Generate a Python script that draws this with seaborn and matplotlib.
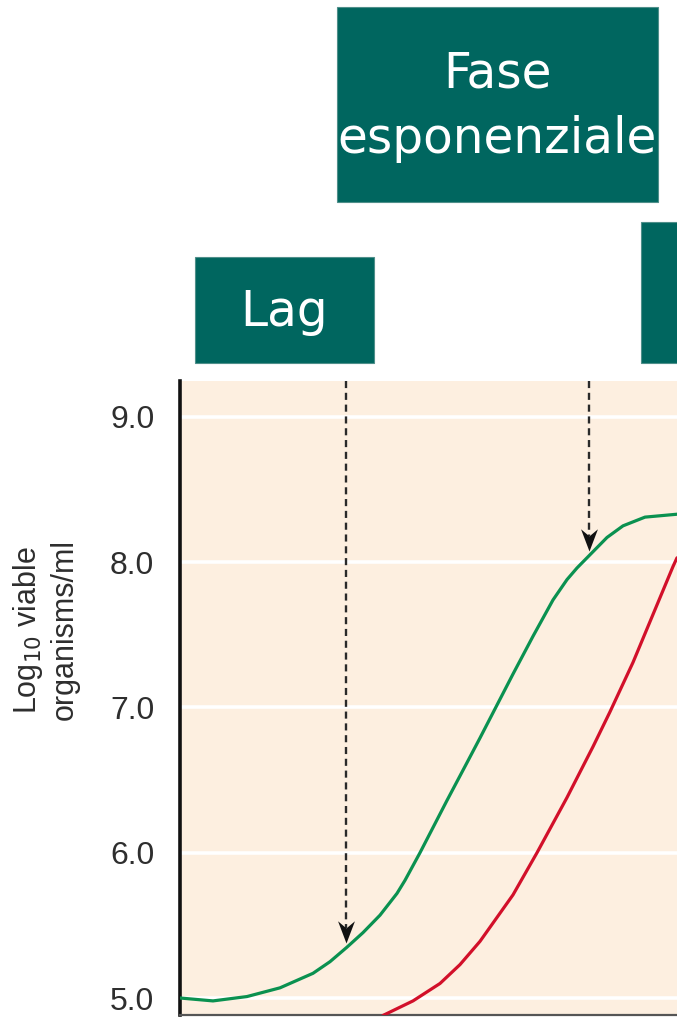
"""
Curva di crescita batterica: fasi lag ed esponenziale (ritaglio)
Uscita: out.png
"""

import matplotlib
matplotlib.use("Agg")
import matplotlib.pyplot as plt
from matplotlib.patches import Rectangle
from matplotlib.path import Path
import seaborn as sns
import pandas as pd

# Dati (tempo in unità arbitrarie, log10 organismi/ml)
tempo_verde = [0.00, 0.66, 1.34, 2.00, 2.66, 3.00, 3.34, 3.66, 4.00, 4.34, 4.50,
               4.80, 5.34, 5.74, 6.00, 6.30, 6.66, 7.06, 7.46, 7.74, 7.94,
               8.14, 8.54, 8.86, 9.30, 9.94]
log_verde = [5.00, 4.98, 5.01, 5.07, 5.17, 5.25, 5.35, 5.45, 5.57, 5.72, 5.81,
             6.00, 6.36, 6.62, 6.79, 6.99, 7.23, 7.49, 7.74, 7.88, 7.96,
             8.03, 8.17, 8.25, 8.31, 8.33]
tempo_rosso = [4.06, 4.66, 5.20, 5.60, 6.00, 6.66, 7.14, 7.74, 8.26, 8.60,
               9.06, 9.46, 9.86, 9.94]
log_rosso = [4.88, 4.98, 5.10, 5.23, 5.39, 5.71, 6.00, 6.38, 6.73, 6.97,
             7.31, 7.64, 7.97, 8.03]

# frecce tratteggiate: tempo e punto di arrivo sulla curva verde
frecce_tempo = [3.32, 8.18]
frecce_arrivo = [5.38, 8.08]

y_ticks = [5.0, 6.0, 7.0, 8.0, 9.0]
etichetta_y = "Log$_{10}$ viable\norganisms/ml"
fasi = ["Lag", "Fase\nesponenziale", ""]

W, H = 677, 1018
TEAL = "#00665F"
SFONDO = "#FDEFE0"

sns.set_style("white", {"axes.facecolor": SFONDO})
plt.rcParams['font.family'] = ['Liberation Sans', 'DejaVu Sans']

fig = plt.figure(figsize=(W / 100, H / 100), dpi=100)

def px(x0, y0, x1, y1):
    """rettangolo in pixel (origine in alto) -> coordinate figura"""
    return [x0 / W, 1 - y1 / H, (x1 - x0) / W, (y1 - y0) / H]

ax = fig.add_axes(px(180, 381, 677, 1015))

df_verde = pd.DataFrame({'tempo': tempo_verde, 'log': log_verde})
df_rosso = pd.DataFrame({'tempo': tempo_rosso, 'log': log_rosso})

for y in y_ticks:
    ax.axhline(y, color='white', lw=2.6, zorder=1)

sns.lineplot(data=df_verde, x='tempo', y='log', ax=ax, color='#0A9150',
             lw=2.3, sort=False, estimator=None, zorder=3)
sns.lineplot(data=df_rosso, x='tempo', y='log', ax=ax, color='#D2102A',
             lw=2.3, sort=False, estimator=None, zorder=3)

# punta di freccia con incavo (punta nell'origine)
punta = Path([(0, 0), (-0.38, 1.0), (0, 0.68), (0.38, 1.0), (0, 0)],
             [Path.MOVETO, Path.LINETO, Path.LINETO, Path.LINETO, Path.CLOSEPOLY])

# frecce tratteggiate
for t, arrivo in zip(frecce_tempo, frecce_arrivo):
    ax.plot([t, t], [9.25, arrivo + 0.1], color='#2A2A2A', lw=1.7,
            ls=(0, (3.0, 2.0)), zorder=4, clip_on=False)
    ax.plot([t], [arrivo], marker=punta, markersize=32, color='#111111',
            markeredgewidth=0, zorder=5)

ax.set_xlim(0, 9.94)
ax.set_ylim(4.883, 9.247)
ax.set_yticks(y_ticks)
ax.set_yticklabels([f"{v:.1f}" for v in y_ticks])
ax.set_xticks([])
ax.set_xlabel('')
ax.set_ylabel('')
ax.tick_params(axis='y', left=False, labelsize=23, pad=15, labelcolor='#2E2E2E')

for lato in ['top', 'right']:
    ax.spines[lato].set_visible(False)
ax.spines['left'].set_color('#111111')
ax.spines['left'].set_linewidth(2.6)
ax.spines['bottom'].set_color('#555555')
ax.spines['bottom'].set_linewidth(1.6)

fig.text(45 / W, 1 - 630 / H, etichetta_y, rotation=90, ha='center', va='center',
         fontsize=22, color='#2E2E2E', linespacing=1.2)

# riquadri delle fasi
riquadri = [(195, 257, 374, 363), (337, 7, 658, 202), (641, 222, 700, 363)]
for (x0, y0, x1, y1), testo in zip(riquadri, fasi):
    fig.patches.append(Rectangle((x0 / W, 1 - y1 / H), (x1 - x0) / W, (y1 - y0) / H,
                                 transform=fig.transFigure, facecolor=TEAL,
                                 edgecolor='#4F8F8A', lw=0.8))
    if testo:
        fig.text((x0 + x1) / 2 / W, 1 - ((y0 + y1) / 2 + 2) / H, testo,
                 ha='center', va='center', color='white', fontsize=35,
                 family=['DejaVu Sans'], linespacing=1.45)

fig.savefig('out.png', dpi=100)
plt.close(fig)
